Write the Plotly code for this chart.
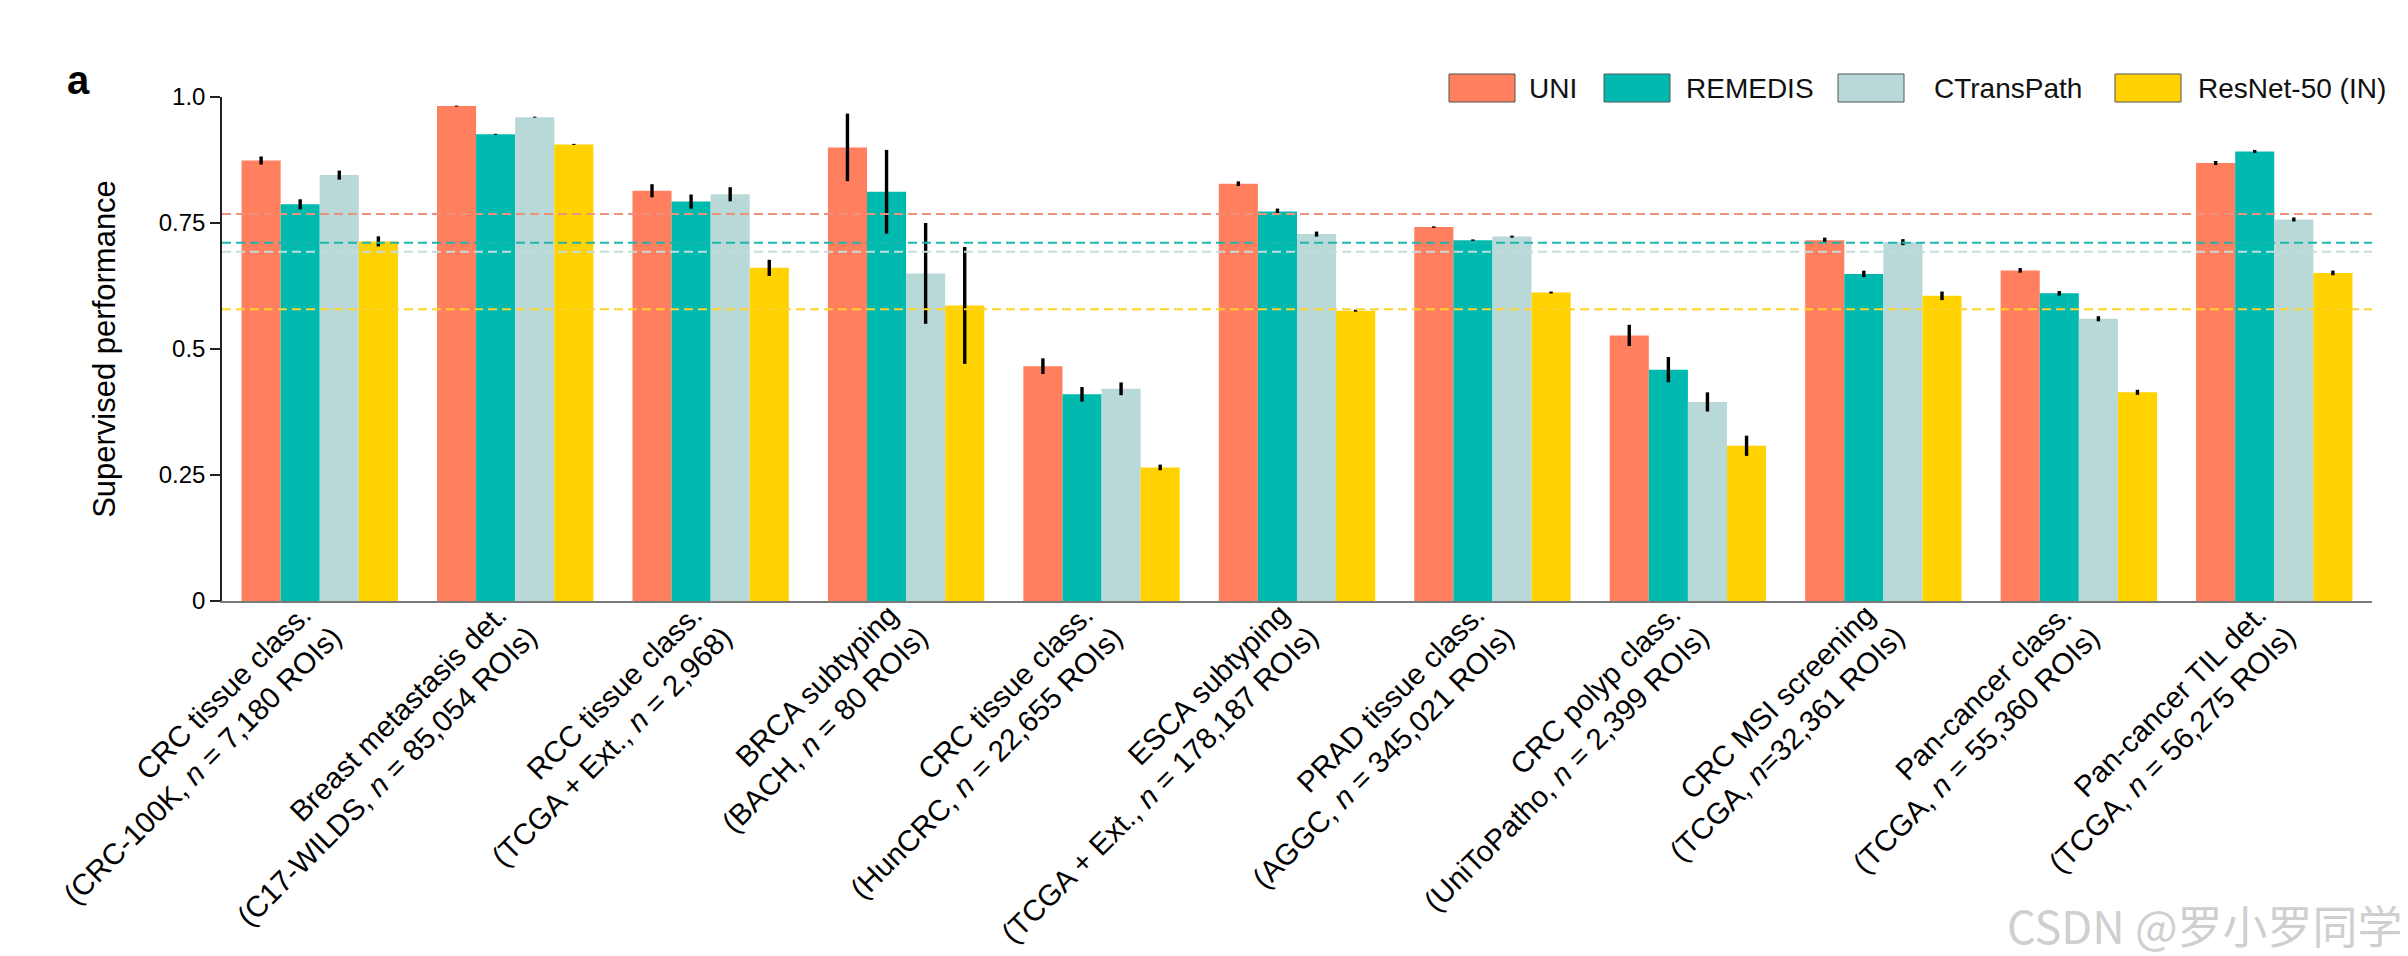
import plotly.graph_objects as go

# ---------------- data ----------------
tasks = ["CRC tissue class.", "Breast metastasis det.", "RCC tissue class.", "BRCA subtyping",
         "CRC tissue class.", "ESCA subtyping", "PRAD tissue class.", "CRC polyp class.",
         "CRC MSI screening", "Pan-cancer class.", "Pan-cancer TIL det."]
cohorts = ["(CRC-100K, <i>n</i> = 7,180 ROIs)", "(C17-WILDS, <i>n</i> = 85,054 ROIs)",
           "(TCGA + Ext., <i>n</i> = 2,968)", "(BACH, <i>n</i> = 80 ROIs)",
           "(HunCRC, <i>n</i> = 22,655 ROIs)", "(TCGA + Ext., <i>n</i> = 178,187 ROIs)",
           "(AGGC, <i>n</i> = 345,021 ROIs)", "(UniToPatho, <i>n</i> = 2,399 ROIs)",
           "(TCGA, <i>n</i>=32,361 ROIs)", "(TCGA, <i>n</i> = 55,360 ROIs)",
           "(TCGA, <i>n</i> = 56,275 ROIs)"]

models = ["UNI", "REMEDIS", "CTransPath", "ResNet-50 (IN)"]

uni = [0.874, 0.982, 0.814, 0.900, 0.466, 0.828, 0.742, 0.527, 0.716, 0.656, 0.869]
uni_err = [0.008, 0.001, 0.013, 0.067, 0.0155, 0.0046, 0.0015, 0.021, 0.005, 0.0046, 0.004]
remedis = [0.787, 0.926, 0.7925, 0.812, 0.410, 0.773, 0.716, 0.459, 0.649, 0.6105, 0.892]
remedis_err = [0.010, 0.001, 0.014, 0.083, 0.0145, 0.0056, 0.0015, 0.025, 0.0064, 0.0046, 0.003]
ctranspath = [0.845, 0.960, 0.807, 0.650, 0.421, 0.728, 0.723, 0.395, 0.712, 0.560, 0.757]
ctranspath_err = [0.009, 0.001, 0.014, 0.100, 0.0127, 0.005, 0.002, 0.019, 0.006, 0.005, 0.004]
resnet = [0.7135, 0.906, 0.661, 0.5865, 0.265, 0.576, 0.612, 0.308, 0.6055, 0.414, 0.651]
resnet_err = [0.010, 0.001, 0.016, 0.116, 0.0056, 0.002, 0.002, 0.020, 0.0085, 0.005, 0.0046]

avg_perf = [0.768, 0.711, 0.693, 0.579]

y_ticks = [0, 0.25, 0.5, 0.75, 1.0]
y_tick_labels = ["0", "0.25", "0.5", "0.75", "1.0"]

# ---------------- styles ----------------
bar_colors = ["#FF7F5E", "#00BAB0", "#B9D8D8", "#FFD200"]
line_colors = ["#EC917E", "#1DB5AC", "#C3DCDC", "#FFD42A"]
FONT = "Liberation Sans"
LABEL_SIZE = 29.5

series = [uni, remedis, ctranspath, resnet]
errors = [uni_err, remedis_err, ctranspath_err, resnet_err]
xpos = list(range(len(tasks)))

fig = go.Figure()
for name, vals, errs, col in zip(models, series, errors, bar_colors):
    fig.add_trace(go.Bar(
        x=xpos, y=vals, name=name, marker=dict(color=col, line=dict(width=0)),
        error_y=dict(type="data", array=errs, visible=True, color="black",
                     thickness=3.4, width=0),
        showlegend=False,
    ))

shapes = []
for v, col in zip(avg_perf, line_colors):
    shapes.append(dict(type="line", xref="paper", yref="y", x0=0, x1=1, y0=v, y1=v,
                       line=dict(color=col, width=2, dash="9px,5px"), layer="above"))

annotations = []
# ---- rotated two-line category labels (placed at each category on the x axis) ----
for xi, t, c in zip(xpos, tasks, cohorts):
    annotations.append(dict(text=t, xref="x", yref="y", x=xi, y=0, xshift=1, yshift=6,
                            xanchor="right", yanchor="top", textangle=-45, showarrow=False,
                            font=dict(family=FONT, size=LABEL_SIZE, color="black")))
    annotations.append(dict(text=c, xref="x", yref="y", x=xi, y=0, xshift=30, yshift=-16,
                            xanchor="right", yanchor="top", textangle=-45, showarrow=False,
                            font=dict(family=FONT, size=LABEL_SIZE, color="black")))

# ---- manual legend (large boxes) ----
L, W, T, H = 214, 2150, 89, 504  # plot area in pixels
def px(x):
    return (x - L) / W
def py(y):
    return (T + H - y) / H

box_x = [1441, 1596, 1830, 2107]
text_x = [1519, 1676, 1924, 2188]
for name, col, bx, tx in zip(models, bar_colors, box_x, text_x):
    shapes.append(dict(type="rect", xref="paper", yref="paper",
                       x0=px(bx), x1=px(bx + 66), y0=py(94), y1=py(66),
                       fillcolor=col, line=dict(color="#555555", width=1)))
    annotations.append(dict(text=name, xref="paper", yref="paper", x=px(tx), y=py(80),
                            xanchor="left", yanchor="middle", showarrow=False,
                            font=dict(family=FONT, size=28, color="#111111")))

annotations.append(dict(text="<b>a</b>", xref="paper", yref="paper", x=px(57), y=py(72),
                        xanchor="left", yanchor="middle", showarrow=False,
                        font=dict(family=FONT, size=40, color="black")))
annotations.append(dict(text="CSDN @罗小罗同学", xref="paper", yref="paper", x=px(2396), y=py(916),
                        xanchor="right", yanchor="middle", showarrow=False,
                        font=dict(family="Noto Sans CJK SC", size=45, color="#CFCFCF")))

fig.update_layout(
    width=2408, height=956,
    margin=dict(l=214, r=44, t=89, b=363),
    paper_bgcolor="white", plot_bgcolor="white",
    barmode="group", bargap=0.2, bargroupgap=0,
    shapes=shapes, annotations=annotations,
    font=dict(family=FONT, color="black"),
)
fig.update_xaxes(
    range=[-0.5, 10.5], tickvals=xpos, showticklabels=False,
    showline=True, linecolor="#7A7A7A", linewidth=2, ticks="", showgrid=False,
    zeroline=False, automargin=False,
)
fig.update_yaxes(
    range=[0, 1.0], tickvals=y_ticks, ticktext=y_tick_labels,
    tickfont=dict(family=FONT, size=24, color="black"),
    showline=True, linecolor="#222222", linewidth=1.5, ticks="outside", ticklen=10,
    tickwidth=1.5, tickcolor="#222222", showgrid=False, zeroline=False, automargin=False,
    title=dict(text="Supervised performance", font=dict(family=FONT, size=31, color="black"),
               standoff=34),
)

fig.write_html("out.html")
